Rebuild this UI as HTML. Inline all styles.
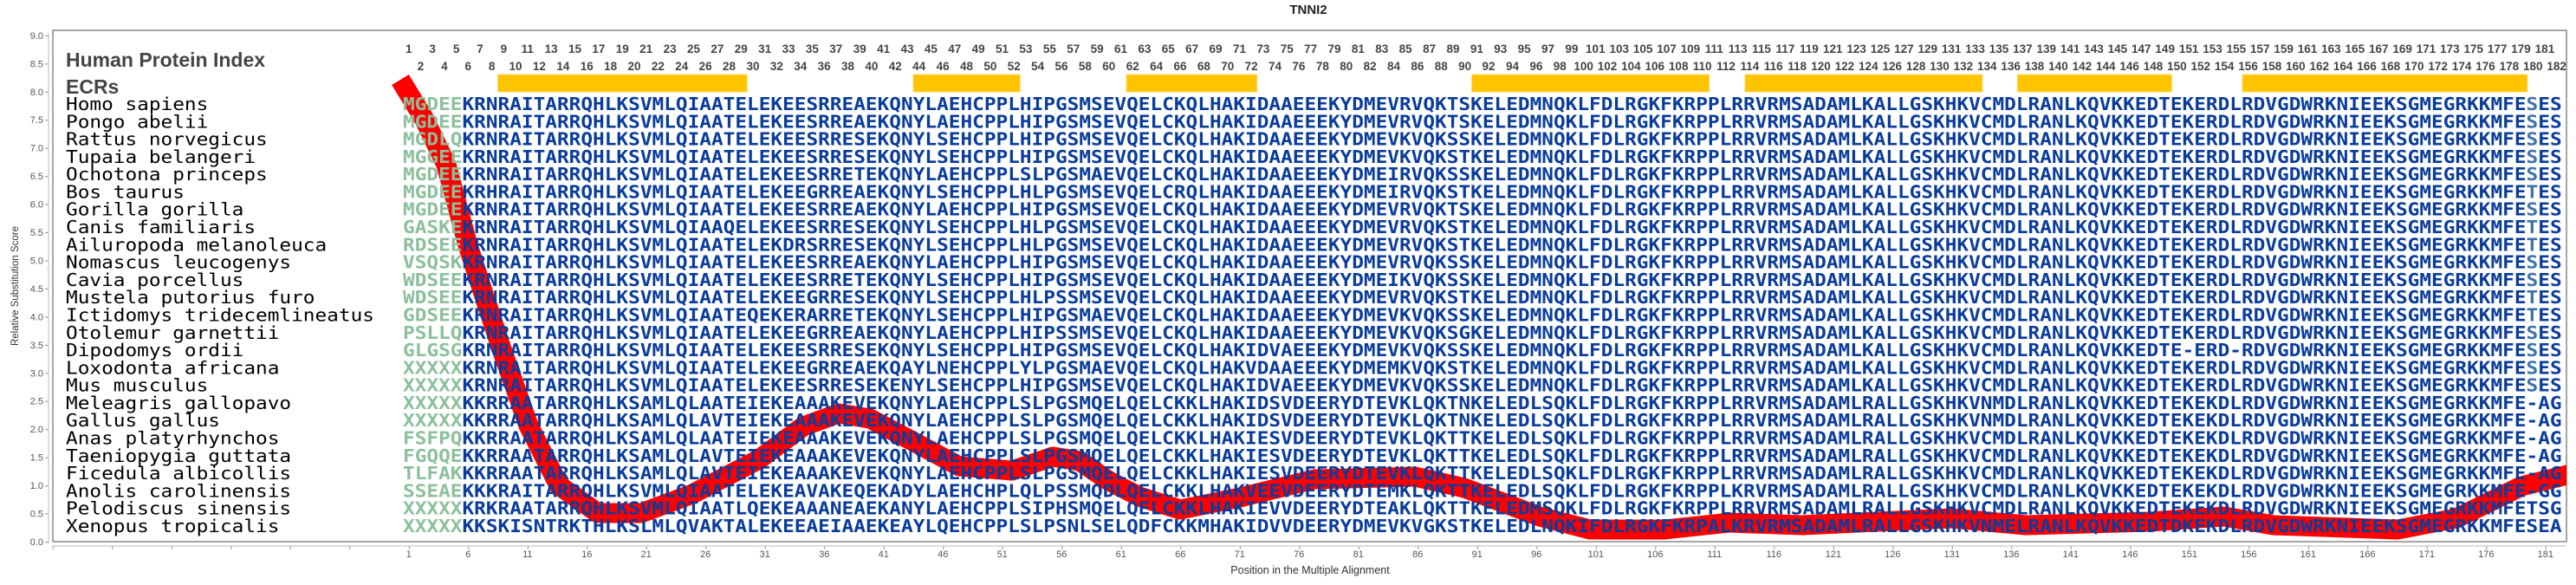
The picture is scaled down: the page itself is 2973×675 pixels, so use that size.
<!DOCTYPE html>
<html><head><meta charset="utf-8"><style>
body{margin:0;background:#fff;width:2973px;height:675px;overflow:hidden;position:relative;font-family:"Liberation Sans",sans-serif}
.idx{position:absolute;display:flex;font-weight:bold;font-size:13.5px;color:#444;white-space:nowrap}
.idx span{width:27.4px;text-align:center;flex:none}
.bx{position:absolute;display:flex;font-size:11px;color:#555;top:634px;left:437.55px}
.bx span{width:68.5px;text-align:center;flex:none}
</style></head><body>
<svg width="2973" height="675" style="position:absolute;left:0;top:0">
<text x="1510" y="16" font-family="Liberation Sans" font-weight="bold" font-size="15" text-anchor="middle" fill="#222">TNNI2</text>
<rect x="61" y="35" width="2901" height="590" fill="none" stroke="#888" stroke-width="1.5"/>
<line x1="56" y1="38" x2="56" y2="627" stroke="#bbb" stroke-width="1"/>
<line x1="54" y1="40.9" x2="54" y2="626" stroke="#999" stroke-width="4" stroke-dasharray="1 31.45"/>
<line x1="61" y1="630" x2="2962" y2="630" stroke="#bbb" stroke-width="1"/>
<line x1="60.8" y1="632" x2="2962" y2="632" stroke="#999" stroke-width="4" stroke-dasharray="1 67.5"/>
<g font-family="Liberation Sans" font-size="11" fill="#555" text-anchor="end">
<text x="50" y="629">0.0</text><text x="50" y="596.5">0.5</text><text x="50" y="564">1.0</text><text x="50" y="531.6">1.5</text><text x="50" y="499.2">2.0</text><text x="50" y="466.7">2.5</text><text x="50" y="434.3">3.0</text><text x="50" y="401.8">3.5</text><text x="50" y="369.4">4.0</text><text x="50" y="337">4.5</text><text x="50" y="304.5">5.0</text><text x="50" y="272">5.5</text><text x="50" y="239.6">6.0</text><text x="50" y="207.1">6.5</text><text x="50" y="174.7">7.0</text><text x="50" y="142.2">7.5</text><text x="50" y="109.8">8.0</text><text x="50" y="77.3">8.5</text><text x="50" y="44.9">9.0</text>
</g>
<text transform="translate(21,330) rotate(-90)" font-family="Liberation Sans" font-size="11.5" fill="#333" text-anchor="middle">Relative Substitution Score</text>
<text x="1512" y="662" font-family="Liberation Sans" font-size="12.5" fill="#333" text-anchor="middle">Position in the Multiple Alignment</text>
<text x="76" y="77" font-family="Liberation Sans" font-weight="bold" font-size="23" fill="#444">Human Protein Index</text>
<text x="76" y="108" font-family="Liberation Sans" font-weight="bold" font-size="23" fill="#444">ECRs</text>
<g fill="#ffc400" stroke="#ffdb66" stroke-width="1">
<rect x="574.5" y="86" width="287.7" height="20"/>
<rect x="1054" y="86" width="123.3" height="20"/>
<rect x="1300" y="86" width="150.7" height="20"/>
<rect x="1698.6" y="86" width="274" height="20"/>
<rect x="2013.9" y="86" width="274" height="20"/>
<rect x="2328.3" y="86" width="178.1" height="20"/>
<rect x="2588" y="86" width="328.8" height="20"/>
</g>
<clipPath id="c"><rect x="61" y="35" width="2901" height="590"/></clipPath>
<polyline clip-path="url(#c)" fill="none" stroke="#ff0000" stroke-width="23" stroke-linejoin="round" stroke-linecap="butt" points="462,92 490,138 515,190 540,283 560,345 578,400 610,491 645,560 690,592 740,592 799,570 876,530 927,492 968,477 1004,483 1055,510 1107,538 1168,543 1215,527 1246,532 1280,555 1315,573 1362,588 1431,574 1517,553 1633,550 1690,563 1777,596 1835,611 1921,611 1996,603 2080,606 2252,598 2338,606 2481,602 2567,596 2624,606 2767,611 2835,598 2910,561 2975,545"/>
<g transform="translate(76,0) scale(1.1048,1)" font-family="DejaVu Sans Mono" font-size="20.6" fill="#000">
<text y="127">Homo sapiens</text><text y="147.3">Pongo abelii</text><text y="167.6">Rattus norvegicus</text><text y="187.9">Tupaia belangeri</text><text y="208.2">Ochotona princeps</text><text y="228.5">Bos taurus</text><text y="248.7">Gorilla gorilla</text><text y="269">Canis familiaris</text><text y="289.3">Ailuropoda melanoleuca</text><text y="309.6">Nomascus leucogenys</text><text y="329.9">Cavia porcellus</text><text y="350.2">Mustela putorius furo</text><text y="370.5">Ictidomys tridecemlineatus</text><text y="390.8">Otolemur garnettii</text><text y="411.1">Dipodomys ordii</text><text y="431.4">Loxodonta africana</text><text y="451.6">Mus musculus</text><text y="471.9">Meleagris gallopavo</text><text y="492.2">Gallus gallus</text><text y="512.5">Anas platyrhynchos</text><text y="532.8">Taeniopygia guttata</text><text y="553.1">Ficedula albicollis</text><text y="573.4">Anolis carolinensis</text><text y="593.7">Pelodiscus sinensis</text><text y="614">Xenopus tropicalis</text>
</g>
<g transform="translate(465,0) scale(1.1048,1)" font-family="DejaVu Sans Mono" font-weight="bold" font-size="20.6" fill="#0a3c9c">
<text y="127"><tspan fill="#8cc09c">MGDEE</tspan>KRNRAITARRQHLKSVMLQIAATELEKEESRREAEKQNYLAEHCPPLHIPGSMSEVQELCKQLHAKIDAAEEEKYDMEVRVQKTSKELEDMNQKLFDLRGKFKRPPLRRVRMSADAMLKALLGSKHKVCMDLRANLKQVKKEDTEKERDLRDVGDWRKNIEEKSGMEGRKKMFE<tspan fill="#3f72ab">S</tspan>ES</text>
<text y="147.3"><tspan fill="#8cc09c">MGDEE</tspan>KRNRAITARRQHLKSVMLQIAATELEKEESRREAEKQNYLAEHCPPLHIPGSMSEVQELCKQLHAKIDAAEEEKYDMEVRVQKTSKELEDMNQKLFDLRGKFKRPPLRRVRMSADAMLKALLGSKHKVCMDLRANLKQVKKEDTEKERDLRDVGDWRKNIEEKSGMEGRKKMFE<tspan fill="#3f72ab">S</tspan>ES</text>
<text y="167.6"><tspan fill="#8cc09c">MGDLQ</tspan>KRNRAITARRQHLKSVMLQIAATELEKEESRRESEKQNYLSEHCPPLHIPGSMSEVQELCKQLHAKIDAAEEEKYDMEVKVQKSSKELEDMNQKLFDLRGKFKRPPLRRVRMSADAMLKALLGSKHKVCMDLRANLKQVKKEDTEKERDLRDVGDWRKNIEEKSGMEGRKKMFE<tspan fill="#3f72ab">S</tspan>ES</text>
<text y="187.9"><tspan fill="#8cc09c">MGGEE</tspan>KRNRAITARRQHLKSVMLQIAATELEKEESRRESEKQNYLSEHCPPLHIPGSMSEVQELCKQLHAKIDAAEEEKYDMEVKVQKSTKELEDMNQKLFDLRGKFKRPPLRRVRMSADAMLKALLGSKHKVCMDLRANLKQVKKEDTEKERDLRDVGDWRKNIEEKSGMEGRKKMFE<tspan fill="#3f72ab">S</tspan>ES</text>
<text y="208.2"><tspan fill="#8cc09c">MGDEE</tspan>KRNRAITARRQHLKSVMLQIAATELEKEESRRETEKQNYLAEHCPPLSLPGSMAEVQELCKQLHAKIDAAEEEKYDMEIRVQKSSKELEDMNQKLFDLRGKFKRPPLRRVRMSADAMLKALLGSKHKVCMDLRANLKQVKKEDTEKERDLRDVGDWRKNIEEKSGMEGRKKMFE<tspan fill="#3f72ab">S</tspan>ES</text>
<text y="228.5"><tspan fill="#8cc09c">MGDEE</tspan>KRHRAITARRQHLKSVMLQIAATELEKEEGRREAEKQNYLSEHCPPLHLPGSMSEVQELCRQLHAKIDAAEEEKYDMEIRVQKSTKELEDMNQKLFDLRGKFKRPPLRRVRMSADAMLKALLGSKHKVCMDLRANLKQVKKEDTEKERDLRDVGDWRKNIEEKSGMEGRKKMFE<tspan fill="#3f72ab">T</tspan>ES</text>
<text y="248.7"><tspan fill="#8cc09c">MGDEE</tspan>KRNRAITARRQHLKSVMLQIAATELEKEESRREAEKQNYLAEHCPPLHIPGSMSEVQELCKQLHAKIDAAEEEKYDMEVRVQKTSKELEDMNQKLFDLRGKFKRPPLRRVRMSADAMLKALLGSKHKVCMDLRANLKQVKKEDTEKERDLRDVGDWRKNIEEKSGMEGRKKMFE<tspan fill="#3f72ab">S</tspan>ES</text>
<text y="269"><tspan fill="#8cc09c">GASKE</tspan>KRNRAITARRQHLKSVMLQIAAQELEKEESRRESEKQNYLSEHCPPLHLPGSMSEVQELCKQLHAKIDAAEEEKYDMEVRVQKSTKELEDMNQKLFDLRGKFKRPPLRRVRMSADAMLKALLGSKHKVCMDLRANLKQVKKEDTEKERDLRDVGDWRKNIEEKSGMEGRKKMFE<tspan fill="#3f72ab">T</tspan>ES</text>
<text y="289.3"><tspan fill="#8cc09c">RDSEE</tspan>KRNRAITARRQHLKSVMLQIAATELEKDRSRRESEKQNYLSEHCPPLHLPGSMSEVQELCKQLHAKIDAAEEEKYDMEVRVQKSTKELEDMNQKLFDLRGKFKRPPLRRVRMSADAMLKALLGSKHKVCMDLRANLKQVKKEDTEKERDLRDVGDWRKNIEEKSGMEGRKKMFE<tspan fill="#3f72ab">T</tspan>ES</text>
<text y="309.6"><tspan fill="#8cc09c">VSQSK</tspan>KRNRAITARRQHLKSVMLQIAATELEKEESRREAEKQNYLAEHCPPLHIPGSMSEVQELCKQLHAKIDAAEEEKYDMEVRVQKSSKELEDMNQKLFDLRGKFKRPPLRRVRMSADAMLKALLGSKHKVCMDLRANLKQVKKEDTEKERDLRDVGDWRKNIEEKSGMEGRKKMFE<tspan fill="#3f72ab">S</tspan>ES</text>
<text y="329.9"><tspan fill="#8cc09c">WDSEE</tspan>KRNRAITARRQHLKSVMLQIAATELEKEESRRETEKQNYLSEHCPPLHIPGSMSEVQELCKQLHAKIDAAEEEKYDMEIKVQKSSKELEDMNQKLFDLRGKFKRPPLRRVRMSADAMLKALLGSKHKVCMDLRANLKQVKKEDTEKERDLRDVGDWRKNIEEKSGMEGRKKMFE<tspan fill="#3f72ab">S</tspan>ES</text>
<text y="350.2"><tspan fill="#8cc09c">WDSEE</tspan>KRNRAITARRQHLKSVMLQIAATELEKEEGRRESEKQNYLSEHCPPLHLPSSMSEVQELCKQLHAKIDAAEEEKYDMEVRVQKSTKELEDMNQKLFDLRGKFKRPPLRRVRMSADAMLKALLGSKHKVCMDLRANLKQVKKEDTEKERDLRDVGDWRKNIEEKSGMEGRKKMFE<tspan fill="#3f72ab">T</tspan>ES</text>
<text y="370.5"><tspan fill="#8cc09c">GDSEE</tspan>KRNRAITARRQHLKSVMLQIAATEQEKERARRETEKQNYLSEHCPPLHIPGSMAEVQELCKQLHAKIDAAEEEKYDMEVKVQKSSKELEDMNQKLFDLRGKFKRPPLRRVRMSADAMLKALLGSKHKVCMDLRANLKQVKKEDTEKERDLRDVGDWRKNIEEKSGMEGRKKMFE<tspan fill="#3f72ab">T</tspan>ES</text>
<text y="390.8"><tspan fill="#8cc09c">PSLLQ</tspan>KRNRAITARRQHLKSVMLQIAATELEKEEGRREAEKQNYLAEHCPPLHIPSSMSEVQELCKQLHAKIDAAEEEKYDMEVKVQKSGKELEDMNQKLFDLRGKFKRPPLRRVRMSADAMLKALLGSKHKVCMDLRANLKQVKKEDTEKERDLRDVGDWRKNIEEKSGMEGRKKMFE<tspan fill="#3f72ab">S</tspan>ES</text>
<text y="411.1"><tspan fill="#8cc09c">GLGSG</tspan>KRNRAITARRQHLKSVMLQIAATELEKEESRRESEKQNYLSEHCPPLHIPGSMSEVQELCKQLHAKIDVAEEEKYDMEVKVQKSSKELEDMNQKLFDLRGKFKRPPLRRVRMSADAMLKALLGSKHKVCMDLRANLKQVKKEDTE-ERD-RDVGDWRKNIEEKSGMEGRKKMFE<tspan fill="#3f72ab">S</tspan>ES</text>
<text y="431.4"><tspan fill="#8cc09c">XXXXX</tspan>KRNRAITARRQHLKSVMLQIAATELEKEEGRREAEKQAYLNEHCPPLYLPGSMAEVQELCKQLHAKVDAAEEEKYDMEMKVQKSTKELEDMNQKLFDLRGKFKRPPLRRVRMSADAMLKALLGSKHKVCMDLRANLKQVKKEDTEKERDLRDVGDWRKNIEEKSGMEGRKKMFE<tspan fill="#3f72ab">S</tspan>ES</text>
<text y="451.6"><tspan fill="#8cc09c">XXXXX</tspan>KRNRAITARRQHLKSVMLQIAATELEKEESRRESEKENYLSEHCPPLHIPGSMSEVQELCKQLHAKIDVAEEEKYDMEVKVQKSSKELEDMNQKLFDLRGKFKRPPLRRVRMSADAMLKALLGSKHKVCMDLRANLKQVKKEDTEKERDLRDVGDWRKNIEEKSGMEGRKKMFE<tspan fill="#3f72ab">S</tspan>ES</text>
<text y="471.9"><tspan fill="#8cc09c">XXXXX</tspan>KKRRAATARRQHLKSAMLQLAATEIEKEAAAKEVEKQNYLAEHCPPLSLPGSMQELQELCKKLHAKIDSVDEERYDTEVKLQKTNKELEDLSQKLFDLRGKFKRPPLRRVRMSADAMLRALLGSKHKVNMDLRANLKQVKKEDTEKEKDLRDVGDWRKNIEEKSGMEGRKKMFE-AG</text>
<text y="492.2"><tspan fill="#8cc09c">XXXXX</tspan>KKRRAATARRQHLKSAMLQLAVTEIEKEAAAKEVEKQNYLAEHCPPLSLPGSMQELQELCKKLHAKIDSVDEERYDTEVKLQKTNKELEDLSQKLFDLRGKFKRPPLRRVRMSADAMLRALLGSKHKVNMDLRANLKQVKKEDTEKEKDLRDVGDWRKNIEEKSGMEGRKKMFE-AG</text>
<text y="512.5"><tspan fill="#8cc09c">FSFPQ</tspan>KKRRAATARRQHLKSAMLQLAATEIEKEAAAKEVEKQNYLAEHCPPLSLPGSMQELQELCKKLHAKIESVDEERYDTEVKLQKTTKELEDLSQKLFDLRGKFKRPPLRRVRMSADAMLRALLGSKHKVCMDLRANLKQVKKEDTEKEKDLRDVGDWRKNIEEKSGMEGRKKMFE-AG</text>
<text y="532.8"><tspan fill="#8cc09c">FGQQE</tspan>KKRRAATARRQHLKSAMLQLAVTEIEKEAAAKEVEKQNYLAEHCPPLSLPGSMQELQELCKKLHAKIESVDEERYDTEVKLQKTTKELEDLSQKLFDLRGKFKRPPLRRVRMSADAMLRALLGSKHKVCMDLRANLKQVKKEDTEKEKDLRDVGDWRKNIEEKSGMEGRKKMFE-AG</text>
<text y="553.1"><tspan fill="#8cc09c">TLFAK</tspan>KKRRAATARRQHLKSAMLQLAVTEIEKEAAAKEVEKQNYLAEHCPPLSLPGSMQELQELCKKLHAKIESVDEERYDTEVKLQKTTKELEDLSQKLFDLRGKFKRPPLRRVRMSADAMLRALLGSKHKVCMDLRANLKQVKKEDTEKEKDLRDVGDWRKNIEEKSGMEGRKKMFE-AG</text>
<text y="573.4"><tspan fill="#8cc09c">SSEAE</tspan>KKKRAITARRQHLKSVMLQIAATELEKEAVAKEQEKADYLAEHCHPLQLPSSMQDLQELCKKLHAKVEEVDEERYDTEMKLQKTTKELEDLSQKLFDLRGKFKRPPLKRVRMSADAMLRALLGSKHKVCMDLRANLKQVKKEDTEKEKDLRDVGDWRKNIEEKSGMEGRKKMFE-GG</text>
<text y="593.7"><tspan fill="#8cc09c">XXXXX</tspan>KRKRAATARRQHLKSVMLQIAATLQEKEAAANEAEKANYLAEHCPPLSIPHSMQELQELCKKLHAKIEVVDEERYDTEAKLQKTTKELEDMSQKLFDLRGKFKRPPLRRVRMSADAMLRALLGSKHKVCMDLRANLKQVKKEDTEKEKDLRDVGDWRKNIEEKSGMEGRKKMFETSG</text>
<text y="614"><tspan fill="#8cc09c">XXXXX</tspan>KKSKISNTRKTHLKSLMLQVAKTALEKEEAEIAAEKEAYLQEHCPPLSLPSNLSELQDFCKKMHAKIDVVDEERYDMEVKVGKSTKELEDLNQKIFDLRGKFKRPALKRVRMSADAMLRALLGSKHKVNMELRANLKQVKKEDTDKEKDLRDVGDWRKNIEEKSGMEGRKKMFESEA</text>
</g>
</svg>
<div class="idx" style="left:458.1px;top:49px">
<span>1</span><span>3</span><span>5</span><span>7</span><span>9</span><span>11</span><span>13</span><span>15</span><span>17</span><span>19</span><span>21</span><span>23</span><span>25</span><span>27</span><span>29</span><span>31</span><span>33</span><span>35</span><span>37</span><span>39</span><span>41</span><span>43</span><span>45</span><span>47</span><span>49</span><span>51</span><span>53</span><span>55</span><span>57</span><span>59</span><span>61</span><span>63</span><span>65</span><span>67</span><span>69</span><span>71</span><span>73</span><span>75</span><span>77</span><span>79</span><span>81</span><span>83</span><span>85</span><span>87</span><span>89</span><span>91</span><span>93</span><span>95</span><span>97</span><span>99</span><span>101</span><span>103</span><span>105</span><span>107</span><span>109</span><span>111</span><span>113</span><span>115</span><span>117</span><span>119</span><span>121</span><span>123</span><span>125</span><span>127</span><span>129</span><span>131</span><span>133</span><span>135</span><span>137</span><span>139</span><span>141</span><span>143</span><span>145</span><span>147</span><span>149</span><span>151</span><span>153</span><span>155</span><span>157</span><span>159</span><span>161</span><span>163</span><span>165</span><span>167</span><span>169</span><span>171</span><span>173</span><span>175</span><span>177</span><span>179</span><span>181</span>
</div>
<div class="idx" style="left:471.8px;top:69px">
<span>2</span><span>4</span><span>6</span><span>8</span><span>10</span><span>12</span><span>14</span><span>16</span><span>18</span><span>20</span><span>22</span><span>24</span><span>26</span><span>28</span><span>30</span><span>32</span><span>34</span><span>36</span><span>38</span><span>40</span><span>42</span><span>44</span><span>46</span><span>48</span><span>50</span><span>52</span><span>54</span><span>56</span><span>58</span><span>60</span><span>62</span><span>64</span><span>66</span><span>68</span><span>70</span><span>72</span><span>74</span><span>76</span><span>78</span><span>80</span><span>82</span><span>84</span><span>86</span><span>88</span><span>90</span><span>92</span><span>94</span><span>96</span><span>98</span><span>100</span><span>102</span><span>104</span><span>106</span><span>108</span><span>110</span><span>112</span><span>114</span><span>116</span><span>118</span><span>120</span><span>122</span><span>124</span><span>126</span><span>128</span><span>130</span><span>132</span><span>134</span><span>136</span><span>138</span><span>140</span><span>142</span><span>144</span><span>146</span><span>148</span><span>150</span><span>152</span><span>154</span><span>156</span><span>158</span><span>160</span><span>162</span><span>164</span><span>166</span><span>168</span><span>170</span><span>172</span><span>174</span><span>176</span><span>178</span><span>180</span><span>182</span>
</div>
<div class="bx">
<span>1</span><span>6</span><span>11</span><span>16</span><span>21</span><span>26</span><span>31</span><span>36</span><span>41</span><span>46</span><span>51</span><span>56</span><span>61</span><span>66</span><span>71</span><span>76</span><span>81</span><span>86</span><span>91</span><span>96</span><span>101</span><span>106</span><span>111</span><span>116</span><span>121</span><span>126</span><span>131</span><span>136</span><span>141</span><span>146</span><span>151</span><span>156</span><span>161</span><span>166</span><span>171</span><span>176</span><span>181</span>
</div>
</body></html>
